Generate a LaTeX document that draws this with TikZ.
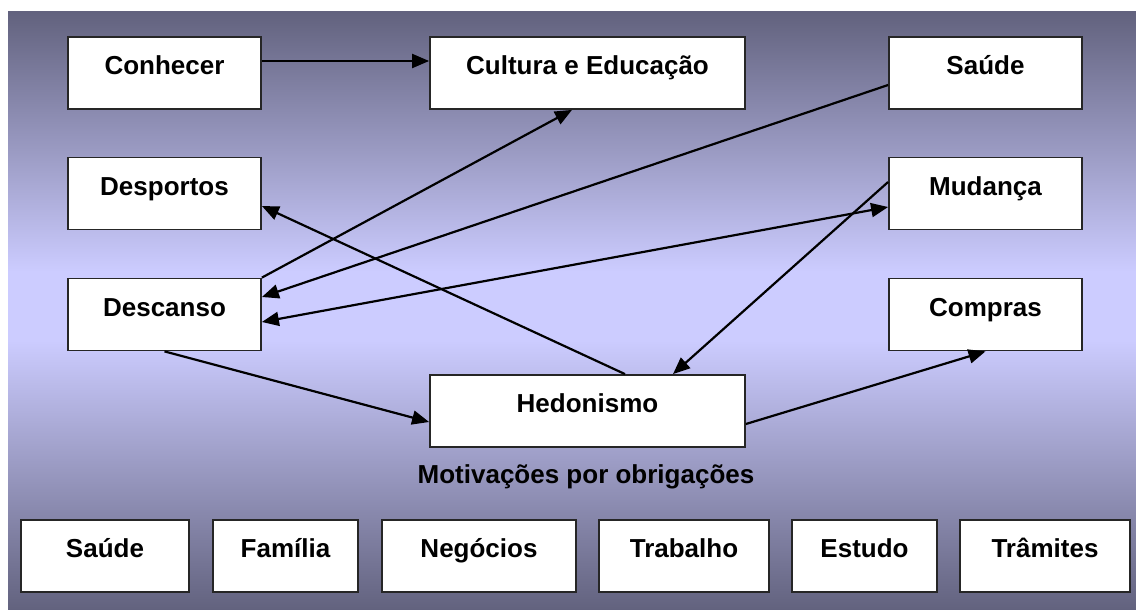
\documentclass[tikz,border=0pt]{standalone}
\usepackage{fontspec}
\setmainfont{Liberation Sans}
\usetikzlibrary{positioning,calc,arrows.meta}
\definecolor{bgdark}{RGB}{98,98,126}
\definecolor{bglight}{RGB}{204,204,255}

\begin{document}
\begin{tikzpicture}[x=1pt, y=-1pt, >={Triangle[length=17pt,width=14pt]}, line width=2.2pt]
	\useasboundingbox (0,0) rectangle (1136,610);
	% background
	\shade[top color=bgdark, bottom color=bglight] (8,12) rectangle (1136,272);
	\fill[bglight] (8,271) rectangle (1136,341);
	\shade[top color=bglight, bottom color=bgdark] (8,340) rectangle (1136,610);

	\begin{scope}
		\tikzstyle{every node}=[draw=black!85, fill=white, line width=1.8pt, align=center, inner sep=0pt, font=\bfseries\fontsize{26}{30}\selectfont, text height=37.5pt, text depth=34.5pt, minimum width=193pt]
		\node (conhecer) at (164.5, 73) {Conhecer};
		\node[minimum width=315pt] (cultura) at (587.5, 73) {Cultura e Educação};
		\node (saude) at (985.5, 73) {Saúde};

		\node (desportos) at (164.5, 193.5) {Desportos};
		\node (mudanca) at (985.5, 193.5) {Mudança};

		\node (descanso) at (164.5, 314.5) {Descanso};
		\node (compras) at (985.5, 314.5) {Compras};

		\node[minimum width=315pt] (hedonismo) at (587.5, 411) {Hedonismo};

		% obligations
		\node[minimum width=168pt] (saudeob) at (105, 556) {Saúde};
		\node[minimum width=145pt] (familia) at (285.5, 556) {Família};
		\node[minimum width=194pt] (negocios) at (479, 556) {Negócios};
		\node[minimum width=170pt] (trabalho) at (684, 556) {Trabalho};
		\node[minimum width=145pt] (estudo) at (864.5, 556) {Estudo};
		\node[minimum width=170pt] (tramites) at (1045, 556) {Trâmites};

		\draw [->] ([yshift=12pt]conhecer.east) to ([yshift=12pt]cultura.west);
		\draw [->] (descanso.north east) to ([xshift=-15.5pt]cultura.south);
		\draw [->] ([yshift=-12pt]saude.west) to ([yshift=17.5pt]descanso.east);
		\draw [<->] ([yshift=-7.5pt]descanso.east) to ([yshift=-13.5pt]mudanca.west);
		\draw [->] ([yshift=11.5pt]mudanca.west) to ([xshift=85.5pt]hedonismo.north);
		\draw [->] ([xshift=37.5pt]hedonismo.north) to ([yshift=-12.5pt]desportos.east);
		\draw [->] (descanso.south) to ([yshift=-11pt]hedonismo.west);
		\draw [->] ([yshift=-13pt]hedonismo.east) to (compras.south);
	\end{scope}
	\node[anchor=base, inner sep=0pt, font=\bfseries\fontsize{26}{30}\selectfont] (obrig) at (586, 483) {Motivações por obrigações};
\end{tikzpicture}
\end{document}
